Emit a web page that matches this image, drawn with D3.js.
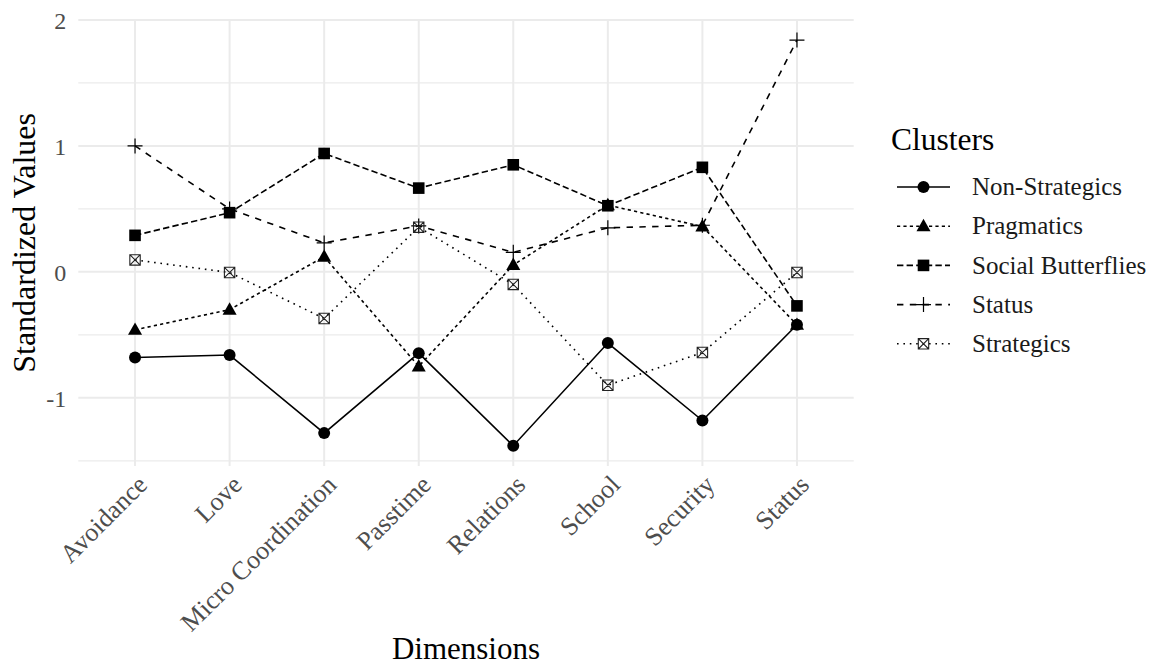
<!DOCTYPE html>
<html><head><meta charset="utf-8">
<script src="https://cdn.jsdelivr.net/npm/d3@7"></script>
<style>body{margin:0;background:#fff}svg{display:block}</style>
</head><body>
<svg id="chart" width="1153" height="666"></svg>
<script>
const dims = ["Avoidance","Love","Micro Coordination","Passtime","Relations","School","Security","Status"];
const clusterNames = ["Non-Strategics","Pragmatics","Social Butterflies","Status","Strategics"];
const nonStrategics     = [-0.68, -0.66, -1.28, -0.645, -1.38, -0.565, -1.18, -0.42];
const pragmatics        = [-0.46, -0.30,  0.12, -0.75,   0.055, 0.53,   0.36, -0.42];
const socialButterflies = [ 0.29,  0.47,  0.94,  0.665,  0.85,  0.525,  0.83, -0.27];
const statusCluster     = [ 1.00,  0.50,  0.23,  0.365,  0.155, 0.35,   0.37,  1.84];
const strategics        = [ 0.095,-0.005,-0.37,  0.355, -0.10, -0.90,  -0.64, -0.005];
const yTicks = [-1, 0, 1, 2];
const yTickLabels = ["-1", "0", "1", "2"];
const yMinor = [-1.5, -0.5, 0.5, 1.5];

const seriesValues = [nonStrategics, pragmatics, socialButterflies, statusCluster, strategics];
const series = clusterNames.map((name, i) => ({name, values: seriesValues[i].map((v, j) => ({dim: dims[j], v}))}));

const svg = d3.select("#chart");
const FONT = "'Liberation Serif', 'Times New Roman', serif";
const panel = {left: 78.3, right: 853.7, top: 19.8, bottom: 466};

const all = seriesValues.flat();
const lo = d3.min(all), hi = d3.max(all), pad = (hi - lo) * 0.05;
const x = d3.scalePoint().domain(dims).range([panel.left, panel.right]).padding(0.6);
const y = d3.scaleLinear().domain([lo - pad, hi + pad]).range([panel.bottom, panel.top]);

// grid
const g = svg.append("g");
g.selectAll(".minor").data(yMinor).join("line")
  .attr("x1", panel.left).attr("x2", panel.right)
  .attr("y1", d => y(d)).attr("y2", d => y(d))
  .attr("stroke", "#ebebeb").attr("stroke-width", 1.1);
g.selectAll(".major").data(yTicks).join("line")
  .attr("x1", panel.left).attr("x2", panel.right)
  .attr("y1", d => y(d)).attr("y2", d => y(d))
  .attr("stroke", "#ebebeb").attr("stroke-width", 2);
g.selectAll(".vmajor").data(dims).join("line")
  .attr("x1", d => x(d)).attr("x2", d => x(d))
  .attr("y1", panel.top).attr("y2", panel.bottom)
  .attr("stroke", "#ebebeb").attr("stroke-width", 2);

// axes (no lines, only labels)
const yAxis = d3.axisLeft(y).tickValues(yTicks).tickSize(0).tickPadding(0)
  .tickFormat((d, i) => yTickLabels[i]);
const ya = svg.append("g").attr("transform", `translate(${panel.left - 12},0)`).call(yAxis);
ya.select(".domain").remove();
ya.selectAll("text").attr("font-family", FONT).attr("font-size", 24).attr("fill", "#4d4d4d").attr("dy", "0.34em");

const xAxis = d3.axisBottom(x).tickSize(0).tickPadding(0);
const xa = svg.append("g").attr("transform", `translate(0,${panel.bottom + 7})`).call(xAxis);
xa.select(".domain").remove();
xa.selectAll("text").attr("font-family", FONT).attr("font-size", 26).attr("fill", "#4d4d4d")
  .attr("text-anchor", "end").attr("y", 0).attr("dy", "0.72em")
  .attr("transform", "rotate(-45)").attr("x", 0);

// titles
svg.append("text").attr("x", (panel.left + panel.right) / 2).attr("y", 659)
  .attr("text-anchor", "middle").attr("font-family", FONT).attr("font-size", 31).attr("fill", "#000").text("Dimensions");
svg.append("text").attr("transform", `translate(35,${(panel.top + panel.bottom) / 2}) rotate(-90)`)
  .attr("text-anchor", "middle").attr("font-family", FONT).attr("font-size", 32).attr("fill", "#000").text("Standardized Values");

const dashes = {"Non-Strategics": null, "Pragmatics": "3.2,3.2", "Social Butterflies": "6.4,3.2", "Status": "6.4,6.4", "Strategics": "1.6,4.8"};
const lw = 1.6;

function drawShape(sel, name) {
  if (name === "Non-Strategics") {
    sel.append("circle").attr("r", 6).attr("fill", "#000");
  } else if (name === "Pragmatics") {
    const s = 7.4;
    sel.append("path").attr("d", `M0,${-s}L${s*0.95},${s*0.68}L${-s*0.95},${s*0.68}Z`).attr("fill", "#000");
  } else if (name === "Social Butterflies") {
    sel.append("rect").attr("x", -5.8).attr("y", -5.8).attr("width", 11.6).attr("height", 11.6).attr("fill", "#000");
  } else if (name === "Status") {
    sel.append("path").attr("d", "M-7.5,0H7.5M0,-7.5V7.5").attr("stroke", "#000").attr("stroke-width", 1.2).attr("fill", "none");
  } else {
    sel.append("path").attr("d", "M-5.2,-5.2H5.2V5.2H-5.2ZM-5.2,-5.2L5.2,5.2M5.2,-5.2L-5.2,5.2").attr("stroke", "#222").attr("stroke-width", 1.1).attr("fill", "none");
  }
}

const line = d3.line().x(d => x(d.dim)).y(d => y(d.v));
svg.append("g").selectAll("path").data(series).join("path")
  .attr("d", d => line(d.values)).attr("fill", "none").attr("stroke", "#000")
  .attr("stroke-width", lw).attr("stroke-dasharray", d => dashes[d.name]);

series.forEach(s => {
  svg.append("g").selectAll("g").data(s.values).join("g")
    .attr("transform", d => `translate(${x(d.dim)},${y(d.v)})`)
    .each(function() { drawShape(d3.select(this), s.name); });
});

// legend
const leg = svg.append("g");
leg.append("text").attr("x", 891).attr("y", 150).attr("font-family", FONT).attr("font-size", 31.5).attr("fill", "#000").text("Clusters");
clusterNames.forEach((name, i) => {
  const cy = 187 + i * 39.2;
  const row = leg.append("g").attr("transform", `translate(0,${cy})`);
  row.append("line").attr("x1", 897).attr("x2", 950).attr("y1", 0).attr("y2", 0)
    .attr("stroke", "#000").attr("stroke-width", lw).attr("stroke-dasharray", dashes[name]);
  drawShape(row.append("g").attr("transform", "translate(923.5,0)"), name);
  row.append("text").attr("x", 972).attr("y", 0).attr("dy", "0.33em").attr("font-family", FONT)
    .attr("font-size", 25).attr("fill", "#1a1a1a").text(name);
});
</script>
</body></html>
